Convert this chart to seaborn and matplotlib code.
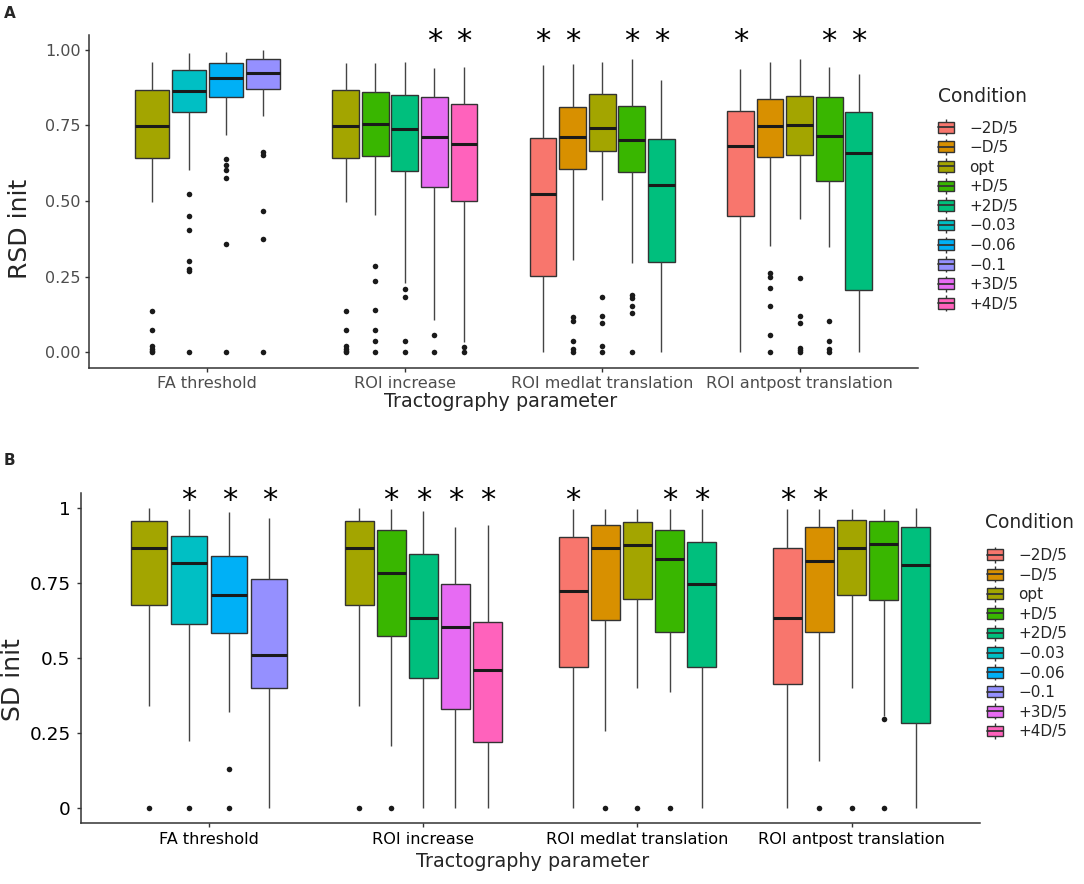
import numpy as np
import pandas as pd
import matplotlib
matplotlib.use("Agg")
import matplotlib.pyplot as plt
import seaborn as sns
from matplotlib.patches import Patch
from matplotlib.lines import Line2D

# ---------------- data ----------------
CONDITIONS = ["\u22122D/5", "\u2212D/5", "opt", "+D/5", "+2D/5",
              "\u22120.03", "\u22120.06", "\u22120.1", "+3D/5", "+4D/5"]
COLORS = ["#F8766D", "#D89000", "#A3A500", "#39B600", "#00BF7D",
          "#00BFC4", "#00B0F6", "#9590FF", "#E76BF3", "#FF62BC"]
PARAMS = ["FA threshold", "ROI increase", "ROI medlat translation", "ROI antpost translation"]
GROUP_CONDS = [
    ["opt", "\u22120.03", "\u22120.06", "\u22120.1"],
    ["opt", "+D/5", "+2D/5", "+3D/5", "+4D/5"],
    ["\u22122D/5", "\u2212D/5", "opt", "+D/5", "+2D/5"],
    ["\u22122D/5", "\u2212D/5", "opt", "+D/5", "+2D/5"],
]

# Panel A (RSD init): lower whisker, Q1, median, Q3, upper whisker per box
A_LO = [[0.496, 0.602, 0.718, 0.779], [0.496, 0.453, 0.228, 0.105, 0.035],
        [0.0, 0.306, 0.503, 0.296, 0.0], [0.0, 0.351, 0.441, 0.347, 0.0]]
A_Q1 = [[0.643, 0.795, 0.842, 0.871], [0.643, 0.648, 0.599, 0.545, 0.501],
        [0.252, 0.607, 0.666, 0.596, 0.297], [0.449, 0.644, 0.650, 0.566, 0.205]]
A_MED = [[0.749, 0.863, 0.907, 0.922], [0.749, 0.753, 0.737, 0.710, 0.687],
         [0.523, 0.711, 0.742, 0.701, 0.554], [0.682, 0.746, 0.750, 0.716, 0.658]]
A_Q3 = [[0.866, 0.931, 0.957, 0.969], [0.866, 0.861, 0.851, 0.842, 0.821],
        [0.709, 0.811, 0.854, 0.812, 0.706], [0.797, 0.837, 0.847, 0.842, 0.794]]
A_HI = [[0.959, 0.987, 0.993, 0.998], [0.957, 0.957, 0.959, 0.940, 0.942],
        [0.948, 0.952, 0.960, 0.969, 0.901], [0.935, 0.960, 0.970, 0.943, 0.919]]
A_OUT = [
    [[0.137, 0.075, 0.02, 0.012, 0.005, 0.0], [0.524, 0.449, 0.404, 0.302, 0.275, 0.268, 0.0],
     [0.640, 0.618, 0.603, 0.574, 0.356, 0.0], [0.661, 0.653, 0.467, 0.373, 0.0]],
    [[0.137, 0.075, 0.02, 0.012, 0.005, 0.0], [0.284, 0.237, 0.138, 0.075, 0.038, 0.0],
     [0.210, 0.182, 0.038, 0.0], [0.057, 0.0], [0.018, 0.0]],
    [[], [0.116, 0.103, 0.038, 0.011, 0.0], [0.182, 0.121, 0.095, 0.020, 0.0],
     [0.190, 0.179, 0.154, 0.130, 0.0], []],
    [[], [0.261, 0.250, 0.213, 0.152, 0.057, 0.0], [0.244, 0.121, 0.095, 0.015, 0.008, 0.0],
     [0.103, 0.038, 0.011, 0.0], []],
]
A_STARS = [[0, 0, 0, 0], [0, 0, 0, 1, 1], [1, 1, 0, 1, 1], [1, 0, 0, 1, 1]]

# Panel B (SD init)
B_LO = [[0.340, 0.222, 0.320, 0.0], [0.340, 0.207, 0.0, 0.0, 0.0],
        [0.0, 0.257, 0.400, 0.386, 0.0], [0.0, 0.156, 0.400, 0.305, 0.0]]
B_Q1 = [[0.675, 0.611, 0.582, 0.400], [0.675, 0.573, 0.433, 0.329, 0.218],
        [0.470, 0.625, 0.695, 0.587, 0.470], [0.413, 0.587, 0.709, 0.693, 0.281]]
B_MED = [[0.865, 0.817, 0.708, 0.509], [0.865, 0.783, 0.631, 0.602, 0.458],
         [0.722, 0.867, 0.876, 0.829, 0.745], [0.631, 0.821, 0.866, 0.879, 0.809]]
B_Q3 = [[0.956, 0.905, 0.839, 0.761], [0.956, 0.925, 0.845, 0.746, 0.620],
        [0.902, 0.942, 0.953, 0.926, 0.886], [0.865, 0.935, 0.959, 0.956, 0.935]]
B_HI = [[0.998, 0.996, 0.987, 0.967], [0.998, 0.996, 0.989, 0.937, 0.941],
        [0.996, 0.996, 0.996, 0.996, 0.996], [0.996, 0.996, 0.996, 0.996, 0.998]]
B_OUT = [
    [[0.0], [0.0], [0.129, 0.0], []],
    [[0.0], [0.0], [], [], []],
    [[], [0.0], [0.0], [0.0], []],
    [[], [0.0], [0.0], [0.296, 0.0], []],
]
B_STARS = [[0, 1, 1, 1], [0, 1, 1, 1, 1], [1, 0, 0, 1, 1], [1, 1, 0, 0, 0]]

# ---------------- style ----------------
sns.set_style("ticks")
plt.rcParams["font.family"] = ["DejaVu Sans"]

PALETTE = dict(zip(CONDITIONS, COLORS))
GROUP_WIDTH = 0.75
EDGE = "#333333"
W, H = 1084.0, 884.0

fig = plt.figure(figsize=(10.84, 8.84), dpi=100)


def px_rect(l, t, r, b):
    return [l / W, 1 - b / H, (r - l) / W, (b - t) / H]


def build_frames(lo, q1, med, q3, hi, outs):
    box_rows, out_rows = [], []
    for g, conds in enumerate(GROUP_CONDS):
        n = len(conds)
        slot = GROUP_WIDTH / n
        for i, c in enumerate(conds):
            pos = g + (i - (n - 1) / 2) * slot
            for v in (lo[g][i], q1[g][i], med[g][i], q3[g][i], hi[g][i]):
                box_rows.append(dict(group=g, pos=pos, cond=c, val=v))
            for v in outs[g][i]:
                out_rows.append(dict(group=g, pos=pos, cond=c, val=v))
    return pd.DataFrame(box_rows), pd.DataFrame(out_rows)


def draw_panel(ax, lo, q1, med, q3, hi, outs, stars, ylabels, tick_color,
               ytick_size, ytick_pad, star_y):
    boxes, outliers = build_frames(lo, q1, med, q3, hi, outs)
    for sub in (boxes[boxes.group == 0], boxes[boxes.group > 0]):
        sns.boxplot(data=sub, x="pos", y="val", hue="cond", hue_order=CONDITIONS,
                    palette=PALETTE, saturation=1, width=0.9, dodge=False,
                    native_scale=True, whis=(0, 100), fliersize=0,
                    linecolor=EDGE, linewidth=1.0, showcaps=False,
                    whiskerprops=dict(color="#444444", linewidth=1.0),
                    medianprops=dict(color="#1a1a1a", linewidth=2.2),
                    legend=False, ax=ax)
    sns.scatterplot(data=outliers, x="pos", y="val", color="#1a1a1a", s=16,
                    linewidth=0, legend=False, ax=ax, zorder=5)
    # significance stars
    for g, conds in enumerate(GROUP_CONDS):
        n = len(conds)
        slot = GROUP_WIDTH / n
        for i, flag in enumerate(stars[g]):
            if flag:
                ax.text(g + (i - (n - 1) / 2) * slot, star_y, "*", ha="center",
                        va="center", fontsize=22, color="black")
    ax.set_xlim(-0.6, 3.6)
    ax.set_ylim(-0.052, 1.048)
    ax.set_xticks(range(len(PARAMS)))
    ax.set_xticklabels(PARAMS, fontsize=11.6, color=tick_color)
    ax.set_yticks([0, 0.25, 0.5, 0.75, 1.0])
    ax.set_yticklabels(ylabels, fontsize=ytick_size, color=tick_color)
    ax.set_xlabel("")
    ax.set_ylabel("")
    for s in ("top", "right"):
        ax.spines[s].set_visible(False)
    for s in ("left", "bottom"):
        ax.spines[s].set_color(EDGE)
        ax.spines[s].set_linewidth(1.1)
    ax.tick_params(axis="both", length=3, width=1, color=EDGE)
    ax.tick_params(axis="x", pad=3)
    ax.tick_params(axis="y", pad=ytick_pad)
    ax.grid(False)


axA = fig.add_axes(px_rect(89, 35, 918, 368))
draw_panel(axA, A_LO, A_Q1, A_MED, A_Q3, A_HI, A_OUT, A_STARS,
           ["0.00", "0.25", "0.50", "0.75", "1.00"], "#4D4D4D", 11.5, 3, 1.026)

axB = fig.add_axes(px_rect(80.7, 493.3, 980, 823.3))
draw_panel(axB, B_LO, B_Q1, B_MED, B_Q3, B_HI, B_OUT, B_STARS,
           ["0", "0.25", "0.5", "0.75", "1"], "black", 13.3, 4.3, 1.024)

# axis titles
fig.text(501 / W, 1 - 407 / H, "Tractography parameter", ha="center", va="baseline", fontsize=13.8)
fig.text(533 / W, 1 - 867 / H, "Tractography parameter", ha="center", va="baseline", fontsize=13.8)
fig.text(20 / W, 1 - 229 / H, "RSD init", ha="center", va="center", rotation=90, fontsize=18)
fig.text(13 / W, 1 - 680 / H, "SD init", ha="center", va="center", rotation=90, fontsize=18)
# panel tags
fig.text(4 / W, 1 - 13 / H, "A", ha="left", va="center", fontsize=11, fontweight="bold")
fig.text(4 / W, 1 - 460 / H, "B", ha="left", va="center", fontsize=11, fontweight="bold")


# legends
def legend_handles():
    hs = []
    for col in COLORS:
        hs.append((Line2D([], [], ls="none", marker="|", markersize=12, color=EDGE, mew=1),
                   Patch(facecolor=col, edgecolor=EDGE, linewidth=1),
                   Line2D([], [], color=EDGE, lw=1.3)))
    return hs


for (tx, ty, x0, y0) in ((938, 97, 938, 120.5), (985, 523, 987, 548)):
    fig.text(tx / W, 1 - ty / H, "Condition", ha="left", va="center", fontsize=13.5)
    fig.legend(legend_handles(), CONDITIONS, loc="upper left",
               bbox_to_anchor=(x0 / W, 1 - y0 / H), frameon=False, fontsize=11,
               handlelength=1.05, handleheight=0.7, handletextpad=1.0,
               labelspacing=0.3, borderaxespad=0, borderpad=0)

fig.savefig("out.png", dpi=100)
